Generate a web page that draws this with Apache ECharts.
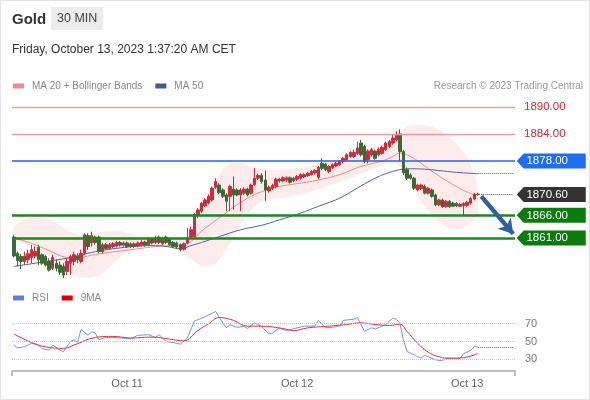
<!DOCTYPE html>
<html><head><meta charset="utf-8">
<script src="https://cdn.jsdelivr.net/npm/echarts@6/dist/echarts.min.js"></script>
<style>
html,body{margin:0;padding:0;background:#fff}
#wrap{position:relative;width:590px;height:400px}
#c{width:590px;height:400px}
#frame{position:absolute;left:0;top:0;width:590px;height:400px;box-sizing:border-box;border:1px solid #e4e4e4;pointer-events:none}
</style>
</head><body><div id="wrap"><div id="c"></div><div id="frame"></div></div>
<script>
// ---- categories / tick labels ----
const nSlots = 142; // 30-min slots from Oct 10 08:00 (last 10 empty)
const categories = Array.from({length: nSlots}, (_, i) => String(i));
const dayLabels = ['Oct 11', 'Oct 12', 'Oct 13'];
const dayLabelIdx = [32, 80, 128];

// ---- candles ----
const opens = [1861.2,1857.6,1856.9,1855.8,1856.2,1856.7,1857.0,1858.9,1857.3,1856.9,
1855.8,1854.3,1855.4,1855.0,1854.7,1853.6,1855.4,1855.8,1857.0,1855.8,
1857.6,1861.5,1859.9,1861.2,1861.2,1858.0,1859.5,1858.7,1859.1,1859.2,
1860.0,1859.4,1859.9,1859.1,1859.7,1859.2,1859.4,1860.1,1859.5,1860.7,
1860.0,1861.2,1859.7,1861.2,1860.7,1860.0,1859.9,1859.5,1858.5,1859.9,
1861.2,1861.3,1866.1,1866.9,1868.1,1868.7,1869.4,1872.2,1872.7,1871.6,
1870.5,1870.2,1871.8,1871.6,1870.5,1870.9,1871.8,1870.9,1872.8,1874.2,
1874.8,1873.8,1871.4,1872.0,1872.4,1874.0,1873.6,1873.8,1874.3,1873.6,
1874.0,1874.2,1874.5,1874.8,1875.0,1875.4,1874.4,1877.5,1877.3,1875.7,
1876.5,1876.9,1877.2,1877.9,1878.3,1879.0,1879.0,1879.7,1882.0,1881.2,
1878.3,1879.4,1880.2,1879.4,1879.7,1880.5,1881.2,1882.0,1882.7,1884.0,
1880.1,1876.1,1874.9,1874.2,1871.6,1871.9,1872.4,1870.9,1871.6,1870.5,
1868.3,1869.4,1867.9,1869.1,1868.7,1868.6,1868.0,1868.2,1868.2,1868.7,
1869.6,1870.7];
const closes = [1857.0,1856.0,1855.8,1857.0,1857.5,1858.4,1858.0,1856.2,1855.4,1855.0,
1853.9,1856.7,1854.3,1853.4,1852.8,1855.8,1856.9,1857.3,1856.2,1857.6,
1861.7,1859.1,1861.5,1860.0,1858.0,1859.5,1858.7,1859.5,1859.7,1860.0,
1859.4,1859.9,1859.1,1859.7,1859.1,1859.9,1860.1,1859.4,1860.6,1859.9,
1860.9,1860.0,1860.9,1860.0,1859.5,1859.1,1859.0,1858.4,1859.7,1860.9,
1862.8,1866.1,1867.2,1868.7,1869.4,1870.2,1872.0,1873.5,1871.0,1870.2,
1869.1,1872.4,1870.5,1870.5,1871.6,1871.8,1870.5,1872.7,1874.2,1874.8,
1873.5,1871.6,1872.2,1872.6,1874.0,1873.6,1874.3,1874.3,1873.3,1874.2,
1874.6,1875.0,1875.0,1875.3,1875.7,1875.9,1876.6,1876.4,1876.1,1876.8,
1877.2,1877.5,1877.9,1878.6,1879.4,1879.9,1879.9,1880.9,1879.4,1877.9,
1880.2,1880.5,1878.6,1880.6,1881.0,1882.0,1882.3,1883.1,1883.8,1880.1,
1875.4,1874.2,1874.2,1872.0,1872.7,1872.7,1870.9,1872.0,1870.2,1868.3,
1869.4,1867.9,1869.1,1867.9,1868.0,1868.1,1868.4,1868.6,1868.9,1869.7,
1870.7,1870.6];
const lows = [1856.7,1854.7,1854.1,1855.0,1855.4,1855.4,1856.5,1855.0,1855.0,1854.7,
1853.6,1853.9,1853.6,1852.8,1852.1,1852.8,1852.8,1855.0,1855.4,1855.4,
1857.3,1858.4,1859.1,1859.5,1857.6,1857.6,1858.4,1858.4,1858.8,1858.9,
1859.1,1859.1,1858.8,1858.8,1858.8,1858.9,1859.1,1859.1,1859.2,1859.6,
1859.7,1859.7,1859.4,1859.7,1859.2,1858.8,1858.7,1858.0,1858.2,1859.6,
1860.9,1861.0,1865.4,1866.5,1867.8,1868.4,1869.0,1871.8,1870.6,1869.8,
1866.9,1866.9,1867.2,1870.2,1866.9,1870.5,1870.2,1870.6,1872.5,1873.8,
1873.0,1869.2,1871.0,1871.6,1872.0,1873.2,1873.3,1873.4,1873.0,1873.3,
1873.6,1873.9,1874.2,1874.5,1874.8,1875.0,1874.0,1876.0,1875.8,1875.3,
1876.2,1876.6,1876.9,1877.5,1878.0,1878.7,1878.7,1879.4,1879.0,1877.5,
1877.5,1879.0,1878.3,1879.0,1879.4,1880.2,1880.9,1881.6,1882.3,1878.0,
1874.9,1873.8,1873.9,1871.6,1871.3,1871.6,1870.6,1870.6,1869.9,1868.0,
1868.0,1867.6,1867.6,1867.6,1867.8,1867.8,1867.8,1865.8,1867.9,1868.4,
1869.3,1870.3];
const highs = [1861.7,1858.0,1857.5,1858.0,1858.4,1859.5,1859.1,1859.5,1857.6,1857.3,
1856.5,1857.3,1856.2,1855.8,1855.4,1856.5,1857.3,1858.0,1857.6,1858.4,
1862.0,1862.0,1862.4,1861.5,1861.5,1859.9,1859.9,1859.9,1860.1,1860.3,
1860.3,1860.2,1860.2,1860.0,1860.0,1860.2,1860.5,1860.4,1861.2,1861.0,
1861.4,1861.5,1861.3,1861.5,1861.0,1860.3,1860.2,1859.8,1860.0,1863.2,
1863.5,1866.5,1867.6,1869.0,1869.8,1870.6,1872.4,1874.2,1873.1,1872.0,
1870.9,1872.8,1874.6,1872.0,1872.0,1872.2,1872.1,1873.0,1876.4,1875.2,
1875.3,1875.9,1872.6,1873.0,1874.3,1874.3,1874.6,1874.6,1874.6,1874.5,
1874.9,1875.3,1875.3,1875.6,1876.0,1876.2,1876.9,1878.6,1877.6,1877.1,
1877.5,1877.9,1878.2,1878.9,1879.7,1880.2,1880.5,1882.3,1882.7,1881.6,
1880.6,1880.9,1880.5,1881.0,1881.4,1882.3,1882.7,1883.8,1884.6,1885.0,
1880.5,1876.6,1875.3,1874.5,1873.0,1873.0,1872.8,1872.3,1871.9,1870.8,
1869.7,1869.7,1869.4,1869.4,1869.0,1868.9,1868.7,1868.9,1869.2,1870.0,
1871.0,1871.0];

// ---- moving averages (slot index, value) ----
const ma20Idx = [0,5,10,15,18,22,26,30,35,40,45,48,50,53,56,59,62,65,68,71,75,80,86,92,98,104,107,109,112,115,118,121,124,127,130];
const ma20Val = [1861.0,1859.8,1858.2,1856.7,1856.6,1857.2,1857.7,1858.1,1858.6,1859.1,1859.4,1859.6,1860.2,1862.5,1864.3,1866.0,1867.8,1869.3,1870.6,1871.5,1872.4,1873.0,1873.8,1875.0,1876.8,1878.0,1879.0,1879.8,1879.0,1877.5,1875.8,1874.2,1872.8,1871.5,1870.5];
const ma50Idx = [0,5,10,15,18,22,26,30,35,40,44,47,50,53,58,64,70,75,81,86,92,98,102,105,109,112,116,120,125,131];
const ma50Val = [1854.7,1855.3,1855.9,1856.5,1857.0,1857.8,1858.4,1858.8,1859.2,1859.3,1859.0,1858.6,1859.3,1860.0,1861.3,1862.8,1863.8,1865.0,1866.5,1868.0,1869.8,1872.5,1874.2,1875.2,1876.1,1876.3,1876.2,1875.9,1875.5,1875.2];

// ---- Bollinger bands ----
const bbIdx   = [0,3,6,9,12,15,18,21,24,27,30,33,36,40,44,47,50,52,54,56,58,60,62,64,67,70,75,80,85,90,95,100,104,107,109,111,113,115,117,119,121,123,125,127,129,131];
const bbUpper = [1863.5,1865.0,1865.6,1865.4,1864.3,1862.8,1861.8,1861.6,1862.2,1862.6,1862.5,1861.9,1861.3,1861.0,1861.0,1861.1,1862.5,1865.0,1868.5,1872.0,1875.0,1876.9,1877.6,1877.5,1876.8,1876.2,1876.0,1876.4,1877.0,1878.0,1879.5,1880.7,1881.8,1882.8,1884.5,1885.5,1886.0,1886.0,1885.8,1885.3,1884.5,1883.3,1881.8,1879.8,1877.0,1872.0];
const bbLower = [1860.5,1859.8,1858.8,1857.5,1855.6,1853.8,1852.5,1852.2,1852.8,1854.5,1856.8,1858.4,1859.2,1859.4,1858.9,1858.0,1856.3,1855.2,1854.8,1855.0,1856.2,1858.5,1861.0,1864.0,1867.2,1869.0,1869.8,1870.4,1871.5,1872.8,1874.3,1875.8,1877.0,1877.6,1876.8,1874.5,1871.6,1869.0,1867.0,1865.3,1864.0,1863.3,1863.0,1863.3,1864.3,1866.5];

// ---- RSI & 9MA ----
const rsiIdx = [0,1,3,5,7,8,10,11,13,14,16,17,18,19,21,22,23,24,26,28,30,33,35,38,40,41,43,45,47,49,51,54,57,59,60,61,63,65,66,68,70,72,73,75,77,80,82,85,86,88,90,92,93,96,97,99,101,102,105,107,108,109,110,111,112,114,115,116,117,119,121,122,124,126,127,129,130,131];
const rsiVal = [46,43,44,48,46,42,40.4,46,40.4,38.5,50,52,49,63.5,57,61,59.6,52,54.6,54.6,54,53,57,57.7,54.6,57.7,50,49,47,54,73,77.7,83.8,71,65.4,69,66,67,64.6,71,67,58.5,59.6,65.4,62.3,65.4,67.3,67.3,73.8,65.4,66,67.3,73.8,75,77,61.5,65.4,64,69,76.3,75,70.7,52,38.8,37,33,31.5,34.5,33,29.5,28.3,31,30.5,31,36.5,40,44.4,43.8];
const ma9Idx = [0,5,9,14,17,23,28,33,39,44,48,52,55,58,62,66,70,76,79,83,89,94,98,102,106,109,111,114,116,118,120,122,125,127,129,131];
const ma9Val = [58.5,49,44,42.3,46,54.6,55.8,54,55,52.7,50.8,62.5,70,77,73.8,67.3,67.3,64.6,62.3,65.4,67.3,69.2,71,69.2,68,69.6,61.5,48,41,35.7,33,31.4,31.4,32,33.7,36.6];

// ---- levels ----
const resistLevels = [1890, 1884];
const pivotLevel = 1878;
const lastPrice = 1870.6;
const supportLevels = [1866, 1861];
const arrowFrom = [132, 1870.2];
const arrowTo = [141, 1861.9];
const rsiLevels = [70, 50, 30];

// ---- build ----
const candleData = opens.map((o, i) => [o, closes[i], lows[i], highs[i]]);
const pairs = (ix, v) => ix.map((x, k) => [x, v[k]]);
const bbBase = pairs(bbIdx, bbLower);
const bbWidth = bbIdx.map((x, k) => [x, +(bbUpper[k] - bbLower[k]).toFixed(2)]);
const lastSlot = nSlots - 1;
const lastIdx = closes.length - 1;
const ma50Last = ma50Val[ma50Val.length - 1];
const rsiLast = rsiVal[rsiVal.length - 1];

const FONT = 'Liberation Sans, Arial, sans-serif';
const badgePath = 'path://M0,7.5L7,0L69,0L69,15L7,15Z';
function badge(v, color) {
  return {
    coord: [lastSlot, v], symbol: badgePath, symbolSize: [69, 15], symbolOffset: [38, 0],
    itemStyle: {color: color},
    label: {show: true, position: 'inside', formatter: v.toFixed(2), color: '#fff', fontSize: 11.5, fontFamily: FONT, offset: [-4, 0]}
  };
}

const chart = echarts.init(document.getElementById('c'), null, {renderer: 'canvas'});
chart.setOption({
  animation: false,
  textStyle: {fontFamily: FONT},
  title: [
    {text: 'Gold', left: 7, top: 7, textStyle: {fontSize: 15, fontWeight: 'bold', color: '#333', fontFamily: FONT}},
    {text: '30 MIN', left: 51, top: 7, padding: [5, 6, 5, 6], backgroundColor: '#ececec', textStyle: {fontSize: 12.5, fontWeight: 'normal', color: '#444', fontFamily: FONT}},
    {text: 'Friday, October 13, 2023 1:37:20 AM CET', left: 7, top: 39, textStyle: {fontSize: 12, fontWeight: 'normal', color: '#333', fontFamily: FONT}},
    {text: 'Research \u00a9 2023 Trading Central', right: 2, top: 76, textStyle: {fontSize: 10, fontWeight: 'normal', color: '#999', fontFamily: FONT}}
  ],
  legend: [
    {data: ['MA 20 + Bollinger Bands', 'MA 50'], left: 8, top: 76, icon: 'rect', itemWidth: 11, itemHeight: 5, itemGap: 13,
     textStyle: {fontSize: 10, color: '#888', fontFamily: FONT, padding: [0, 0, 0, 3]}, selectedMode: false},
    {data: ['RSI', '9MA'], left: 8, top: 288, icon: 'rect', itemWidth: 11, itemHeight: 5, itemGap: 13,
     textStyle: {fontSize: 10, color: '#888', fontFamily: FONT, padding: [0, 0, 0, 3]}, selectedMode: false}
  ],
  grid: [
    {left: 12, right: 75, top: 95, height: 190},
    {left: 12, right: 75, top: 301.5, height: 69.4}
  ],
  xAxis: [
    {type: 'category', gridIndex: 0, data: categories, boundaryGap: true, show: false},
    {type: 'category', gridIndex: 1, data: categories, boundaryGap: true,
     axisLine: {show: true, lineStyle: {color: '#aaa', width: 1.5}},
     axisTick: {show: true, interval: (i) => i === 0, length: 5, lineStyle: {color: '#aaa', width: 1.5}},
     axisLabel: {interval: (i) => dayLabelIdx.includes(i), formatter: (v, i) => dayLabels[dayLabelIdx.indexOf(Number(v))] || '', color: '#666', fontSize: 11, margin: 8, fontFamily: FONT},
     splitLine: {show: false}}
  ],
  yAxis: [
    {type: 'value', gridIndex: 0, min: 1850.6, max: 1892.6, show: false, splitLine: {show: false}},
    {type: 'value', gridIndex: 1, min: 17, max: 95, show: false, splitLine: {show: false}}
  ],
  series: [
    {name: 'bbBase', type: 'line', stack: 'bb', data: bbBase, smooth: 0.5, symbol: 'none', silent: true,
     lineStyle: {opacity: 0}, z: 1},
    {name: 'MA 20 + Bollinger Bands', type: 'line', stack: 'bb', data: bbWidth, smooth: 0.5, symbol: 'none', silent: true,
     lineStyle: {opacity: 0}, areaStyle: {color: 'rgba(248,160,160,0.28)'}, itemStyle: {color: '#f28a8a'}, z: 1},
    {name: 'MA20', type: 'line', data: pairs(ma20Idx, ma20Val), smooth: 0.4, symbol: 'none', silent: true,
     lineStyle: {color: '#f08a8a', width: 1}, z: 2,
     markLine: {silent: true, symbol: ['none', 'none'], label: {show: false},
       lineStyle: {color: '#2a5ff2', width: 1.6, type: 'solid'},
       data: [{yAxis: pivotLevel}]}},
    {name: 'MA 50', type: 'line', data: pairs(ma50Idx, ma50Val), smooth: 0.4, symbol: 'none', silent: true,
     lineStyle: {color: '#4a64a4', width: 1}, itemStyle: {color: '#3d5a9c'}, z: 2,
     markLine: {silent: true, symbol: ['none', 'none'], label: {show: false},
       lineStyle: {type: 'dotted', color: '#666', width: 1},
       data: [[{coord: [131, ma50Last]}, {coord: [lastSlot, ma50Last]}]]}},
    {name: 'Gold', type: 'candlestick', data: candleData, barWidth: 3, silent: true, z: 3,
     itemStyle: {color: '#cf2b3a', color0: '#3c6b38', borderColor: '#cf2b3a', borderColor0: '#3c6b38', borderWidth: 1},
     markLine: {silent: true, symbol: ['none', 'none'], z: 4,
       data: [
         ...resistLevels.map(v => ({yAxis: v, lineStyle: {color: '#f59a9a', width: 1.4, type: 'solid'},
            label: {show: true, position: 'end', formatter: v.toFixed(2), color: '#e0262e', fontSize: 11.5, distance: 9, fontFamily: FONT}})),
         ...supportLevels.map(v => ({yAxis: v, lineStyle: {color: '#18891a', width: 2.5, type: 'solid'}, label: {show: false}})),
         [{coord: [lastIdx + 1, lastPrice], lineStyle: {type: 'dotted', color: '#555', width: 1}, label: {show: false}}, {coord: [lastSlot, lastPrice]}],
         [{coord: arrowFrom, symbol: 'none', lineStyle: {color: '#2f5f9f', width: 4.5, type: 'solid'}, label: {show: false}},
          {coord: arrowTo, symbol: 'arrow', symbolSize: [13, 14]}]
       ]},
     markPoint: {silent: true, z: 5,
       data: [badge(pivotLevel, '#1f6df0'), badge(lastPrice, '#333333'), badge(supportLevels[0], '#0b7b0b'), badge(supportLevels[1], '#0b7b0b')]}},
    {name: 'RSI', type: 'line', xAxisIndex: 1, yAxisIndex: 1, data: pairs(rsiIdx, rsiVal), symbol: 'none', silent: true,
     lineStyle: {color: '#7893e0', width: 1}, itemStyle: {color: '#5b7fdc'}, z: 2,
     markLine: {silent: true, symbol: ['none', 'none'],
       data: [
         ...rsiLevels.map(v => ({yAxis: v, lineStyle: {type: 'dotted', color: '#c8c8c8', width: 1},
            label: {show: true, position: 'end', formatter: String(v), color: '#777', fontSize: 11, distance: 10, fontFamily: FONT}})),
         [{coord: [lastIdx, rsiLast], lineStyle: {type: 'dotted', color: '#666', width: 1}, label: {show: false}}, {coord: [lastSlot, rsiLast]}]
       ]}},
    {name: '9MA', type: 'line', xAxisIndex: 1, yAxisIndex: 1, data: pairs(ma9Idx, ma9Val), smooth: 0.4, symbol: 'none', silent: true,
     lineStyle: {color: '#e8303c', width: 1}, itemStyle: {color: '#e00000'}, z: 3}
  ]
});
</script></body></html>
